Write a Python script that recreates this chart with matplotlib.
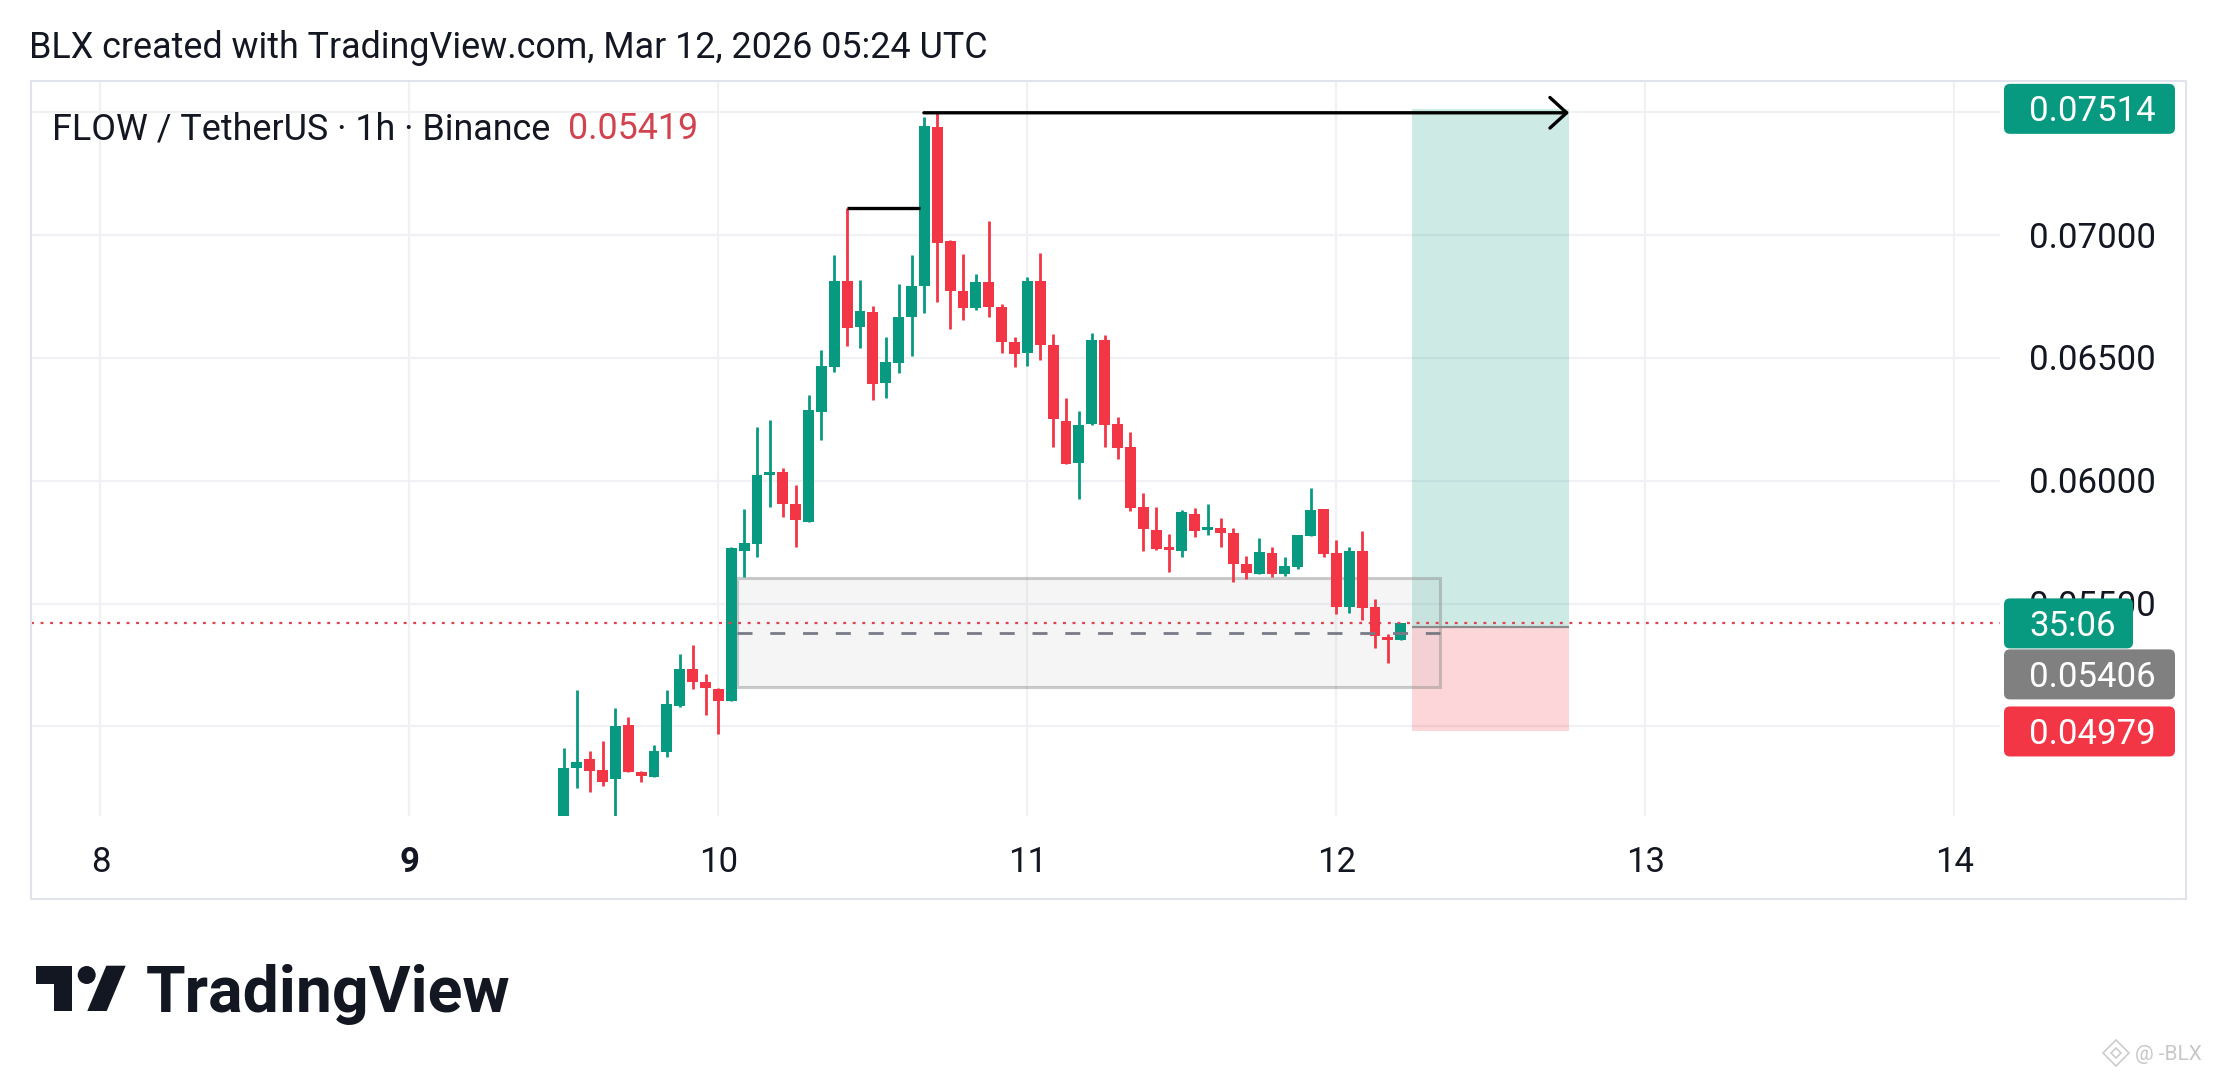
import matplotlib
matplotlib.use('Agg')
import matplotlib.pyplot as plt
from matplotlib.patches import Rectangle, FancyBboxPatch, Circle, Polygon
from matplotlib.transforms import IdentityTransform, blended_transform_factory
import numpy as np

plt.rcParams['font.family'] = ['Roboto', 'DejaVu Sans']

W, H = 2217, 1080

# hourly candles, first one is Mar 9 12:00 UTC (day 9.5)
start_day = 9.5
opens = [0.04550, 0.04832, 0.04866, 0.04822, 0.04784, 0.05005, 0.04813, 0.04795, 0.04897, 0.05084,
         0.05232, 0.05179, 0.05151, 0.05104, 0.05715, 0.05741, 0.06023, 0.06037, 0.05905, 0.05833,
         0.06281, 0.06462, 0.06815, 0.06627, 0.06686, 0.06396, 0.06481, 0.06668, 0.06794, 0.07440,
         0.06977, 0.06774, 0.06702, 0.06810, 0.06706, 0.06563, 0.06519, 0.06814, 0.06553, 0.06244,
         0.06073, 0.06229, 0.06573, 0.06231, 0.06138, 0.05892, 0.05799, 0.05731, 0.05715, 0.05863,
         0.05799, 0.05806, 0.05786, 0.05660, 0.05619, 0.05704, 0.05620, 0.05650, 0.05776, 0.05883,
         0.05704, 0.05484, 0.05715, 0.05484, 0.05365, 0.05351]
highs = [0.04913, 0.05148, 0.04901, 0.04940, 0.05073, 0.05039, 0.04818, 0.04923, 0.05148, 0.05293,
         0.05330, 0.05212, 0.05155, 0.05731, 0.05884, 0.06217, 0.06247, 0.06050, 0.05983, 0.06349,
         0.06532, 0.06919, 0.07109, 0.06817, 0.06711, 0.06586, 0.06801, 0.06919, 0.07482, 0.07498,
         0.06980, 0.06923, 0.06842, 0.07056, 0.06719, 0.06586, 0.06828, 0.06928, 0.06597, 0.06335,
         0.06284, 0.06600, 0.06593, 0.06261, 0.06197, 0.05949, 0.05894, 0.05782, 0.05881, 0.05887,
         0.05905, 0.05847, 0.05809, 0.05693, 0.05765, 0.05729, 0.05688, 0.05779, 0.05969, 0.05883,
         0.05759, 0.05729, 0.05797, 0.05520, 0.05374, 0.05422]
lows = [0.04520, 0.04748, 0.04734, 0.04758, 0.04600, 0.04812, 0.04775, 0.04795, 0.04876, 0.05077,
        0.05151, 0.05045, 0.04967, 0.05104, 0.05609, 0.05691, 0.05894, 0.05854, 0.05731, 0.05833,
        0.06165, 0.06444, 0.06550, 0.06540, 0.06329, 0.06338, 0.06437, 0.06509, 0.06684, 0.06726,
        0.06616, 0.06654, 0.06695, 0.06668, 0.06519, 0.06462, 0.06467, 0.06491, 0.06138, 0.06068,
        0.05926, 0.06227, 0.06138, 0.06087, 0.05878, 0.05715, 0.05718, 0.05630, 0.05690, 0.05772,
        0.05777, 0.05729, 0.05589, 0.05598, 0.05619, 0.05609, 0.05613, 0.05639, 0.05776, 0.05688,
        0.05456, 0.05463, 0.05433, 0.05317, 0.05259, 0.05351]
closes = [0.04829, 0.04856, 0.04818, 0.04775, 0.05001, 0.04815, 0.04798, 0.04899, 0.05091, 0.05232,
          0.05182, 0.05155, 0.05104, 0.05725, 0.05745, 0.06023, 0.06037, 0.05905, 0.05840, 0.06288,
          0.06467, 0.06815, 0.06620, 0.06692, 0.06395, 0.06482, 0.06668, 0.06794, 0.07443, 0.06969,
          0.06774, 0.06702, 0.06810, 0.06706, 0.06566, 0.06516, 0.06813, 0.06553, 0.06250, 0.06070,
          0.06227, 0.06573, 0.06227, 0.06132, 0.05887, 0.05802, 0.05722, 0.05718, 0.05874, 0.05796,
          0.05810, 0.05786, 0.05660, 0.05623, 0.05708, 0.05620, 0.05654, 0.05779, 0.05881, 0.05701,
          0.05484, 0.05715, 0.05480, 0.05368, 0.05351, 0.05419]

day_ticks = [8, 9, 10, 11, 12, 13, 14]
day_labels = ['8', '9', '10', '11', '12', '13', '14']
price_ticks = [0.050, 0.055, 0.060, 0.065, 0.070, 0.075]
# 0.05000 and 0.07500 sit fully behind the price tags, so only these get text
price_labels = [0.055, 0.060, 0.065, 0.070]

# drawings
fvg_start, fvg_end = 10.061, 12.335
fvg_top, fvg_bottom = 0.05605, 0.05158
pos_start, pos_end = 12.245, 12.753
pos_target, pos_entry, pos_stop = 0.07514, 0.05406, 0.04979
swing_low_high = (10.4167, 10.652, 0.07109)
swing_top = (10.665, 12.753, 0.07498)
last_price = 0.05419
countdown = '35:06'

GREEN = '#089981'
RED = '#f23645'
TXT = '#131722'
FS = 25

fig = plt.figure(figsize=(W / 100, H / 100), dpi=100)
fig.patch.set_facecolor('white')

# main pane: x 31..2000 px, y 81..816 px
ax = fig.add_axes([31 / W, 1 - 816 / H, 1969 / W, 735 / H])
xlim = (7.7754, 14.1476)
ylim = (0.046348, 0.076274)
ax.set_xlim(xlim)
ax.set_ylim(ylim)
for s in ax.spines.values():
    s.set_visible(False)
ax.set_xticks(day_ticks)
ax.set_yticks(price_ticks)
ax.tick_params(length=0, labelbottom=False, labelleft=False)
ax.grid(True, color='#f0f1f5', lw=1.6)
ax.set_axisbelow(True)

# candles
o = np.array(opens)
h = np.array(highs)
l = np.array(lows)
c = np.array(closes)
t = start_day + np.arange(len(o)) / 24
cols = np.where(c >= o, GREEN, RED)
ax.vlines(t, l, h, colors=cols, lw=2.0, zorder=4)
body = np.maximum(np.abs(c - o), 0.00004)
ax.bar(t, body, bottom=np.minimum(o, c), width=0.035, color=cols, lw=0, zorder=5)

# long position tool
ax.add_patch(Rectangle((pos_start, pos_entry), pos_end - pos_start, pos_target - pos_entry,
                       fc=GREEN, alpha=0.2, lw=0, zorder=2))
ax.add_patch(Rectangle((pos_start, pos_stop), pos_end - pos_start, pos_entry - pos_stop,
                       fc=RED, alpha=0.2, lw=0, zorder=2))
ax.hlines(pos_entry, pos_start, pos_end, color='#8a8a8a', lw=1.6, zorder=3)

# fair value gap box
ax.add_patch(Rectangle((fvg_start, fvg_bottom), fvg_end - fvg_start, fvg_top - fvg_bottom,
                       fc=(0.6, 0.6, 0.6, 0.09), ec=(0.55, 0.55, 0.55, 0.45), lw=2.2, zorder=3))
ax.hlines((fvg_top + fvg_bottom) / 2, fvg_start, fvg_end, color='#787b86', lw=2,
          linestyles=(0, (5.4, 6.4)), zorder=6)

# swing lines
ax.hlines(swing_low_high[2], swing_low_high[0], swing_low_high[1], color='black', lw=2.4, zorder=7)
ax.annotate('', xy=(swing_top[1], swing_top[2]), xytext=(swing_top[0], swing_top[2]),
            arrowprops=dict(arrowstyle='->,head_length=0.6,head_width=0.55', color='black',
                            lw=2.4, shrinkA=0, shrinkB=0, mutation_scale=20), zorder=7)

# last price line
ax.axhline(last_price, color='#e0404f', lw=1.6, ls=(0, (1.3, 3)), zorder=8)

# frame around chart
fig.add_artist(Rectangle((31, H - 899), 2186 - 31, 899 - 81, fc='none', ec='#e0e3eb',
                         lw=1.5, transform=IdentityTransform(), zorder=1))


def ypix(price):
    return ax.transData.transform((xlim[0], price))[1]


# price scale labels
for p in price_labels:
    fig.text(2029 / W, (ypix(p) - 12.5) / H, f'{p:.5f}', fontsize=FS, color=TXT,
             ha='left', va='baseline', zorder=5)


def price_tag(yc, text, face, x1=2175):
    r = 6
    hh = 50
    fig.add_artist(FancyBboxPatch((2004 + r, yc - hh / 2 + r), x1 - 2004 - 2 * r, hh - 2 * r,
                                  boxstyle=f'round,pad={r}', fc=face, ec='none',
                                  transform=IdentityTransform(), zorder=20))
    fig.text(2029 / W, (yc - 12.5) / H, text, fontsize=FS, color='white',
             ha='left', va='baseline', zorder=21)


price_tag(ypix(pos_target), f'{pos_target:.5f}', GREEN)
price_tag(ypix(last_price), countdown, GREEN, x1=2133)
price_tag(ypix(last_price) - 51, f'{pos_entry:.5f}', '#808080')
price_tag(ypix(pos_stop), f'{pos_stop:.5f}', RED)

# time axis labels
tr = blended_transform_factory(ax.transData, fig.transFigure)
for d, lab in zip(day_ticks, day_labels):
    ax.text(d, 1 - 871.5 / H, lab, transform=tr, fontsize=FS, color=TXT, ha='center',
            va='baseline', fontweight='bold' if lab == '9' else 'normal', clip_on=False)

# header and legend
fig.text(29 / W, 1 - 58.3 / H, 'BLX created with TradingView.com, Mar 12, 2026 05:24 UTC',
         fontsize=25.8, color=TXT, ha='left', va='baseline')
fig.text(52 / W, 1 - 139.3 / H, 'FLOW / TetherUS · 1h · Binance', fontsize=25.8, color=TXT,
         ha='left', va='baseline')
fig.text(568 / W, 1 - 139.3 / H, f'{last_price:.5f}', fontsize=25.8, color='#d1434f',
         ha='left', va='baseline')

# TradingView logo
def pp(x, y):
    return (x, H - y)


logo = dict(fc=TXT, ec='none', transform=IdentityTransform())
fig.add_artist(Polygon([pp(36, 965.7), pp(71.7, 965.7), pp(71.7, 1011), pp(54.3, 1011),
                        pp(54.3, 984), pp(36, 984)], **logo))
fig.add_artist(Circle(pp(86.7, 975), 9, **logo))
fig.add_artist(Polygon([pp(87.3, 1011), pp(106.7, 1011), pp(125.7, 965.7), pp(106.3, 965.7)],
                       **logo))
fig.text(146 / W, 1 - 1011.7 / H, 'TradingView', fontsize=46.3, fontweight='bold', color=TXT,
         ha='left', va='baseline')

# watermark
wm = dict(fc='none', ec='#cccccc', lw=1.2, transform=IdentityTransform())
fig.add_artist(Polygon([pp(2116, 1040), pp(2129, 1053), pp(2116, 1066), pp(2103, 1053)], **wm))
fig.add_artist(Polygon([pp(2116, 1048), pp(2121, 1053), pp(2116, 1058), pp(2111, 1053)], **wm))
fig.text(2135 / W, 1 - 1060.5 / H, '@ -BLX', fontsize=15, color='#c8c8c8', ha='left',
         va='baseline')

fig.savefig('out.png', dpi=100, facecolor='white')
